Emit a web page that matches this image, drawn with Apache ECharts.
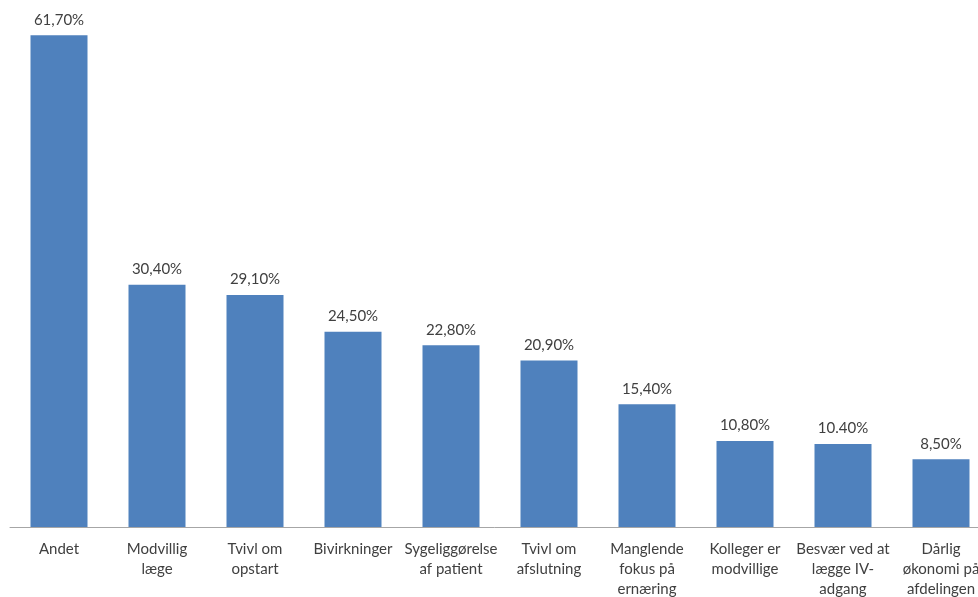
<!DOCTYPE html>
<html><head><meta charset="utf-8">
<script src="https://cdn.jsdelivr.net/npm/echarts@6/dist/echarts.min.js"></script>
<style>html,body{margin:0;padding:0;background:#fff}#c{width:978px;height:597px}</style>
</head><body><div id="c"></div>
<script>
const categories = ["Andet","Modvillig\nlæge","Tvivl om\nopstart","Bivirkninger","Sygeliggørelse\naf patient","Tvivl om\nafslutning","Manglende\nfokus på\nernæring","Kolleger er\nmodvillige","Besvær ved at\nlægge IV-\nadgang","Dårlig\nøkonomi på\nafdelingen"];
const values = [61.7,30.4,29.1,24.5,22.8,20.9,15.4,10.8,10.4,8.5];
const valueLabels = ["61,70%","30,40%","29,10%","24,50%","22,80%","20,90%","15,40%","10,80%","10.40%","8,50%"];
const font = "Lato, 'Open Sans', sans-serif";
const chart = echarts.init(document.getElementById('c'));
chart.setOption({
  animation:false,
  grid:{left:10,right:-12,top:-31,bottom:70,containLabel:false,outerBoundsMode:'none'},
  xAxis:{type:'category',data:categories,
    axisLine:{lineStyle:{color:'#a6a6a6',width:1}},
    axisTick:{show:false},
    axisLabel:{interval:0,color:'#404040',fontFamily:font,fontSize:15,lineHeight:20,margin:12}},
  yAxis:{type:'value',min:0,max:70,show:false,splitLine:{show:false}},
  series:[{type:'bar',data:values,barWidth:57,
    itemStyle:{color:'#4F81BD'},
    label:{show:true,position:'top',distance:8,color:'#404040',fontFamily:font,fontSize:15,
      formatter:p=>valueLabels[p.dataIndex]}}]
});
</script></body></html>
